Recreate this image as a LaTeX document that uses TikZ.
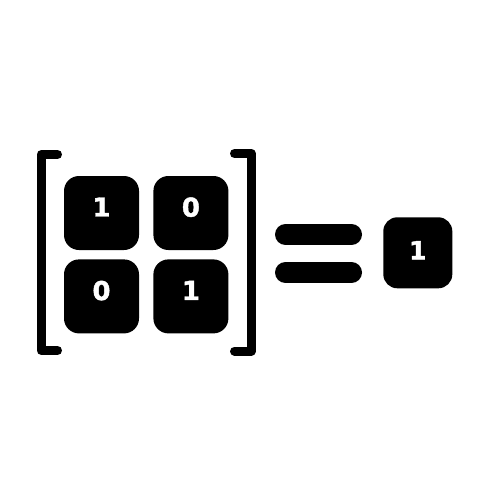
\documentclass[tikz,border=0pt]{standalone}
\usepackage{fontspec}
\newfontfamily\digitfont[BoldFeatures={FakeBold=1.6}]{DejaVu Sans}
\usetikzlibrary{positioning}

\begin{document}
\begin{tikzpicture}[x=1pt,y=-1pt,
                cell/.style={fill=black,text=white,rounded corners=15pt,minimum width=75pt,minimum height=74pt,
                        inner sep=0pt,text depth=12pt,font=\digitfont\bfseries\fontsize{26}{26}\selectfont},
                result/.style={cell,minimum width=69pt,minimum height=71pt,rounded corners=14pt,text depth=5pt,
                        font=\digitfont\bfseries\fontsize{25}{25}\selectfont},
                brack/.style={line width=9pt,line cap=round,line join=round},
                bar/.style={line width=21pt,line cap=round}]
                \useasboundingbox (0,0) rectangle (500,500);
                \node[cell] (a11) at (101.5,213) {1};
                \node[cell,right=14pt of a11] (a12) {0};
                \node[cell,below=9pt of a11] (a21) {0};
                \node[cell,right=14pt of a21] (a22) {1};
                \draw[brack] (57.5,154.5) -- (41,154.5) -- (41,350.5) -- (57.5,350.5);
                \draw[brack] (234.5,153.5) -- (251.3,153.5) -- (251.3,351) -- (234.5,351);
                \draw[bar] (285.5,234.5) -- (351.5,234.5);
                \draw[bar] (285.5,272.5) -- (351.5,272.5);
                \node[result] (r) at (417.8,252.8) {1};
            \end{tikzpicture}
\end{document}
